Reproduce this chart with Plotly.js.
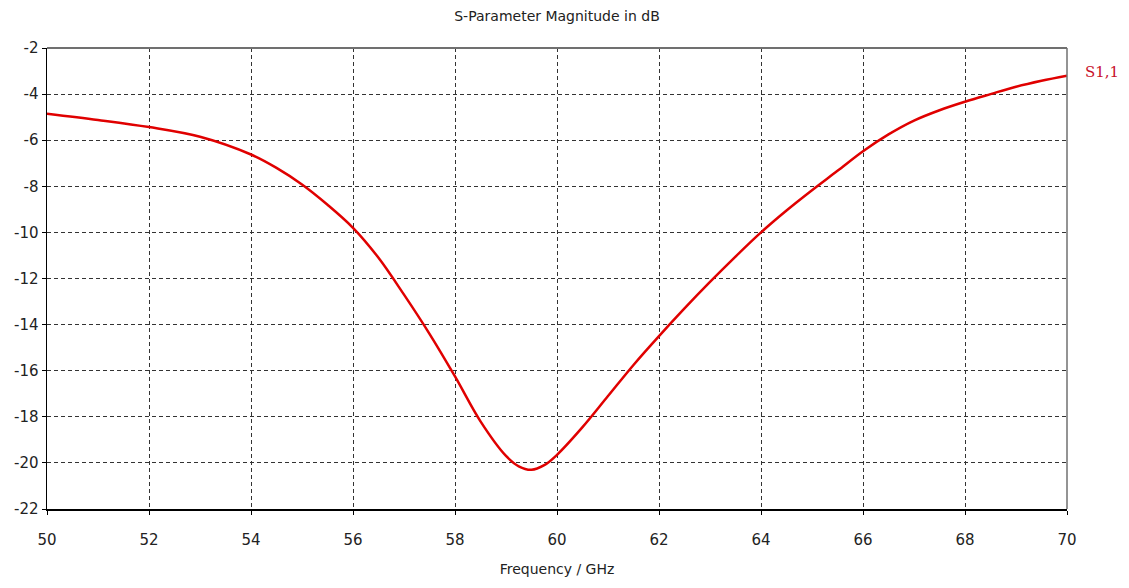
<!DOCTYPE html>
<html>
<head>
<meta charset="utf-8">
<script src="https://cdn.plot.ly/plotly-3.0.1.min.js"></script>
<style>
  html, body { margin: 0; padding: 0; background: #fff; }
  #chart { width: 1129px; height: 588px; }
</style>
</head>
<body>
<div id="chart"></div>
<script>
// Reflection coefficient S1,1 of the antenna, magnitude in dB
const freqGHz = [50, 51, 52, 53, 54, 54.5, 55, 55.5, 56, 56.5, 57, 57.5, 58, 58.5, 59, 59.25, 59.5, 59.75, 60, 60.5, 61, 61.5, 62, 62.5, 63, 63.5, 64, 64.5, 65, 65.5, 66, 66.5, 67, 67.5, 68, 68.5, 69, 69.5, 70];
const s11dB = [-4.85, -5.12, -5.43, -5.85, -6.62, -7.2, -7.92, -8.8, -9.8, -11.1, -12.7, -14.4, -16.25, -18.2, -19.7, -20.15, -20.3, -20.1, -19.65, -18.45, -17.1, -15.75, -14.5, -13.3, -12.15, -11.05, -10.0, -9.05, -8.17, -7.33, -6.48, -5.75, -5.15, -4.7, -4.33, -4.0, -3.68, -3.42, -3.2];
const xTicks = [50, 52, 54, 56, 58, 60, 62, 64, 66, 68, 70];
const yTicks = [-22, -20, -18, -16, -14, -12, -10, -8, -6, -4, -2];
const seriesName = "S1,1";

const fontFamily = "Tahoma, 'DejaVu Sans', 'Liberation Sans', sans-serif";

const trace = {
  x: freqGHz,
  y: s11dB,
  type: "scatter",
  mode: "lines",
  name: seriesName,
  line: { color: "#e00000", width: 2.5, shape: "spline", smoothing: 1 },
  hoverinfo: "x+y"
};

const layout = {
  width: 1129,
  height: 588,
  margin: { l: 47, r: 62, t: 48, b: 79 },
  paper_bgcolor: "#ffffff",
  plot_bgcolor: "#ffffff",
  showlegend: false,
  font: { family: fontFamily, size: 14, color: "#222" },
  title: {
    text: "S-Parameter Magnitude in dB",
    font: { family: fontFamily, size: 14, color: "#222" },
    x: 0.5, xanchor: "center", xref: "paper",
    y: 0.972, yanchor: "middle"
  },
  xaxis: {
    range: [50, 70],
    tickvals: xTicks,
    ticktext: xTicks.map(String),
    ticks: "outside", ticklen: 4, tickcolor: "#000", tickwidth: 1,
    ticklabelstandoff: 12,
    showline: true, linecolor: "#000", linewidth: 1.5,
    showgrid: true, gridcolor: "#333", gridwidth: 1, griddash: "4px,3px",
    zeroline: false,
    tickfont: { family: fontFamily, size: 15, color: "#222" },
    title: { text: "Frequency / GHz", font: { family: fontFamily, size: 14, color: "#222" }, standoff: 16 }
  },
  yaxis: {
    range: [-22, -2],
    tickvals: yTicks,
    ticktext: yTicks.map(String),
    ticks: "outside", ticklen: 4, tickcolor: "#000", tickwidth: 1,
    showline: true, linecolor: "#000", linewidth: 1.5,
    showgrid: true, gridcolor: "#333", gridwidth: 1, griddash: "4px,3px",
    zeroline: false,
    tickfont: { family: fontFamily, size: 15, color: "#222" }
  },
  shapes: [
    // top and right frame edges in grey
    { type: "line", xref: "paper", yref: "paper", x0: 0, x1: 1, y0: 1, y1: 1, line: { color: "#707070", width: 2 } },
    { type: "line", xref: "paper", yref: "paper", x0: 1, x1: 1, y0: 0, y1: 1, line: { color: "#707070", width: 1.5 } }
  ],
  annotations: [
    {
      text: seriesName,
      xref: "paper", yref: "y",
      x: 1.016, y: s11dB[s11dB.length - 1] + 0.15,
      xanchor: "left", yanchor: "middle",
      showarrow: false,
      font: { family: "'DejaVu Serif', 'Liberation Serif', serif", size: 15, color: "#c8102a" }
    }
  ]
};

Plotly.newPlot("chart", [trace], layout, { displayModeBar: false, staticPlot: true });
</script>
</body>
</html>
